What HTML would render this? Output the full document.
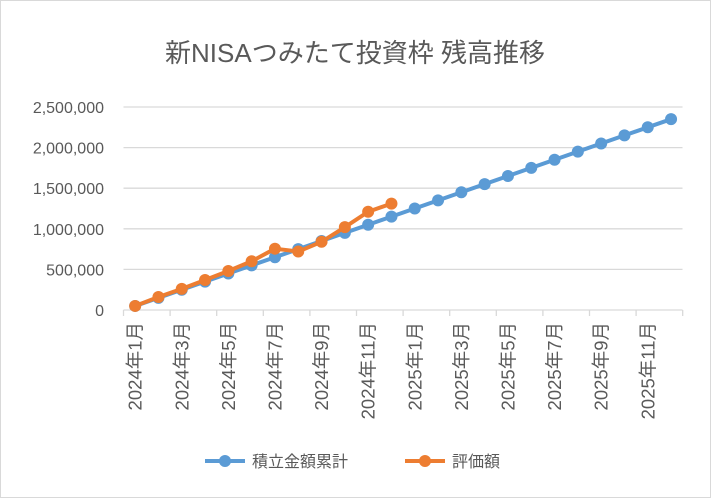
<!DOCTYPE html>
<html><head><meta charset="utf-8"><style>
html,body{margin:0;padding:0;background:#fff;}
svg{display:block;font-family:"Liberation Sans","Noto Sans CJK JP",sans-serif;}
</style></head><body>
<svg width="711" height="498" viewBox="0 0 711 498" xmlns="http://www.w3.org/2000/svg">
<rect x="0.5" y="0.5" width="710" height="497" fill="#fff" stroke="#d9d9d9"/>
<text x="355" y="62" text-anchor="middle" font-size="26" fill="#595959">新NISAつみたて投資枠 残高推移</text>
<g stroke="#d9d9d9" stroke-width="1.3">
<line x1="123.5" x2="682.5" y1="107" y2="107"/>
<line x1="123.5" x2="682.5" y1="147.6" y2="147.6"/>
<line x1="123.5" x2="682.5" y1="188.2" y2="188.2"/>
<line x1="123.5" x2="682.5" y1="228.8" y2="228.8"/>
<line x1="123.5" x2="682.5" y1="269.4" y2="269.4"/>
<line x1="123.5" x2="682.5" y1="310" y2="310"/>
</g>
<g fill="#595959" font-size="16" text-anchor="end">
<text x="104" y="113">2,500,000</text>
<text x="104" y="153.6">2,000,000</text>
<text x="104" y="194.2">1,500,000</text>
<text x="104" y="234.8">1,000,000</text>
<text x="104" y="275.4">500,000</text>
<text x="104" y="316">0</text>
</g>
<g id="ticks" stroke="#d9d9d9" stroke-width="1.3"></g>
<g id="xl" fill="#595959" font-size="18.5"></g>
<polyline id="bl" fill="none" stroke="#5b9bd5" stroke-width="4" stroke-linejoin="round"/>
<g id="bd" fill="#5b9bd5"></g>
<polyline id="ol" fill="none" stroke="#ed7d31" stroke-width="4" stroke-linejoin="round"/>
<g id="od" fill="#ed7d31"></g>
<line x1="205" x2="245" y1="461" y2="461" stroke="#5b9bd5" stroke-width="4"/>
<circle cx="225" cy="461" r="6" fill="#5b9bd5"/>
<text x="252" y="467" font-size="16" fill="#595959">積立金額累計</text>
<line x1="405" x2="445" y1="461" y2="461" stroke="#ed7d31" stroke-width="4"/>
<circle cx="425" cy="461" r="6" fill="#ed7d31"/>
<text x="452" y="467" font-size="16" fill="#595959">評価額</text>
<script>
var ns="http://www.w3.org/2000/svg",x0=123.5,w=23.3;
function Y(v){return 310-v*81.2/1e6;}
function X(i){return x0+w*(i+0.5);}
var t=document.getElementById('ticks'),xl=document.getElementById('xl');
for(var i=0;i<=24;i+=2){var l=document.createElementNS(ns,'line');l.setAttribute('x1',x0+w*i);l.setAttribute('x2',x0+w*i);l.setAttribute('y1',310);l.setAttribute('y2',316);t.appendChild(l);}
for(var i=0;i<24;i+=2){var yr=2024+Math.floor(i/12),m=i%12+1;var tx=document.createElementNS(ns,'text');var x=X(i)+6.5;tx.setAttribute('transform','translate('+x+',322) rotate(-90)');tx.setAttribute('text-anchor','end');tx.textContent=yr+'年'+m+'月';xl.appendChild(tx);}
var b=[],o=[50,160,260,370,480,600,755,720,840,1020,1210,1310];
for(var i=0;i<24;i++)b.push(50+100*i);
function draw(arr,lid,did){var p=[],g=document.getElementById(did);arr.forEach(function(v,i){var x=X(i),y=Y(v*1000);p.push(x+','+y);var c=document.createElementNS(ns,'circle');c.setAttribute('cx',x);c.setAttribute('cy',y);c.setAttribute('r',6);g.appendChild(c);});document.getElementById(lid).setAttribute('points',p.join(' '));}
draw(b,'bl','bd');draw(o,'ol','od');
</script>
</svg>
</body></html>
